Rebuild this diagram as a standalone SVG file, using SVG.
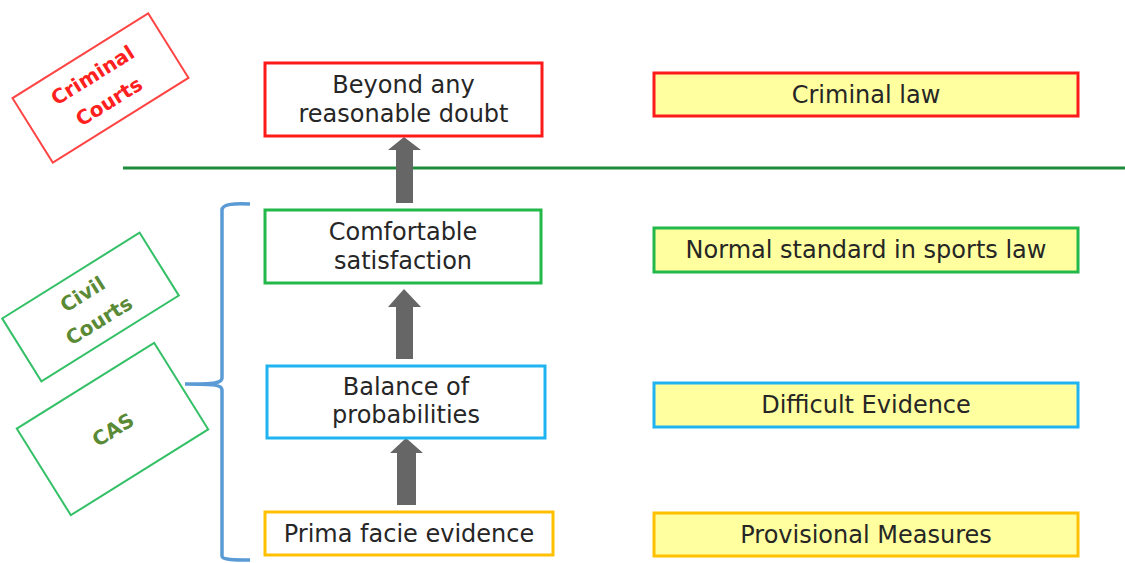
<svg xmlns="http://www.w3.org/2000/svg" width="1125" height="563" viewBox="0 0 1125 563">
<style>
.t{font-family:"DejaVu Sans",Verdana,sans-serif;font-size:24px;fill:#262626;text-anchor:middle;dominant-baseline:central}
.tb{font-family:"DejaVu Sans",Verdana,sans-serif;font-size:20px;font-weight:bold;text-anchor:middle;dominant-baseline:central}
.box{fill:#fff;stroke-width:3}
.ybox{fill:#ffff9f;stroke-width:3}
.arr{fill:#666}
</style>
<rect width="1125" height="563" fill="#fff"/>
<g id="criminal-courts" transform="translate(100.5,88) rotate(-32)">
<rect x="-80" y="-38" width="160" height="76" fill="#fff" stroke="#ff4444" stroke-width="2"/>
<text class="tb" fill="#ff2020" y="-15">Criminal</text>
<text class="tb" fill="#ff2020" y="16">Courts</text>
</g>
<g id="civil-courts" transform="translate(90.5,307) rotate(-32)">
<rect x="-81" y="-37" width="162" height="74" fill="#fff" stroke="#33c066" stroke-width="2"/>
<text class="tb" fill="#5a8a35" y="-15">Civil</text>
<text class="tb" fill="#5a8a35" y="16">Courts</text>
</g>
<g id="cas" transform="translate(112.5,429) rotate(-32)">
<rect x="-81" y="-51" width="162" height="102" fill="#fff" stroke="#33c066" stroke-width="2"/>
<text class="tb" fill="#5a8a35" y="1">CAS</text>
</g>
<g id="brace">
<path d="M250,204 C235,203 222,204 222,210 L222,378 C222,383 215,384 185,384 C215,384 222,385 222,390 L222,556 C222,560 235,560 250,560" fill="none" stroke="#5b9bd5" stroke-width="3.5"/>
</g>
<g id="divider">
<line x1="123" y1="168" x2="1125" y2="168" stroke="#1e8c3c" stroke-width="3"/>
</g>
<g id="connectors">
<polygon class="arr" points="404,137 421,150 413,150 413,203 396,203 396,150 388,150"/>
<polygon class="arr" points="404,289 421,307 413,307 413,359 396,359 396,307 388,307"/>
<polygon class="arr" points="406,438 423,453 416,453 416,505 397,505 397,453 390,453"/>
</g>
<g id="beyond">
<rect class="box" x="265" y="63" width="277" height="73" stroke="#ff1a1a"/>
<text class="t" x="403.5" y="85">Beyond any</text>
<text class="t" x="403.5" y="114">reasonable doubt</text>
</g>
<g id="comfortable">
<rect class="box" x="265" y="210" width="276" height="73" stroke="#22b84a"/>
<text class="t" x="403" y="232">Comfortable</text>
<text class="t" x="403" y="261">satisfaction</text>
</g>
<g id="balance">
<rect class="box" x="267" y="366" width="278" height="72" stroke="#1fb4f0"/>
<text class="t" x="406" y="387">Balance of</text>
<text class="t" x="406" y="415">probabilities</text>
</g>
<g id="prima">
<rect class="box" x="265" y="512" width="288" height="43" stroke="#ffc000"/>
<text class="t" x="409" y="534">Prima facie evidence</text>
</g>
<g id="criminal-law">
<rect class="ybox" x="654" y="73" width="424" height="43" stroke="#ff1a1a"/>
<text class="t" x="866" y="95">Criminal law</text>
</g>
<g id="normal-standard">
<rect class="ybox" x="654" y="228" width="424" height="44" stroke="#22b84a"/>
<text class="t" x="866" y="250">Normal standard in sports law</text>
</g>
<g id="difficult-evidence">
<rect class="ybox" x="654" y="383" width="424" height="44" stroke="#1fb4f0"/>
<text class="t" x="866" y="405">Difficult Evidence</text>
</g>
<g id="provisional-measures">
<rect class="ybox" x="654" y="513" width="424" height="43" stroke="#ffc000"/>
<text class="t" x="866" y="535">Provisional Measures</text>
</g>
</svg>
